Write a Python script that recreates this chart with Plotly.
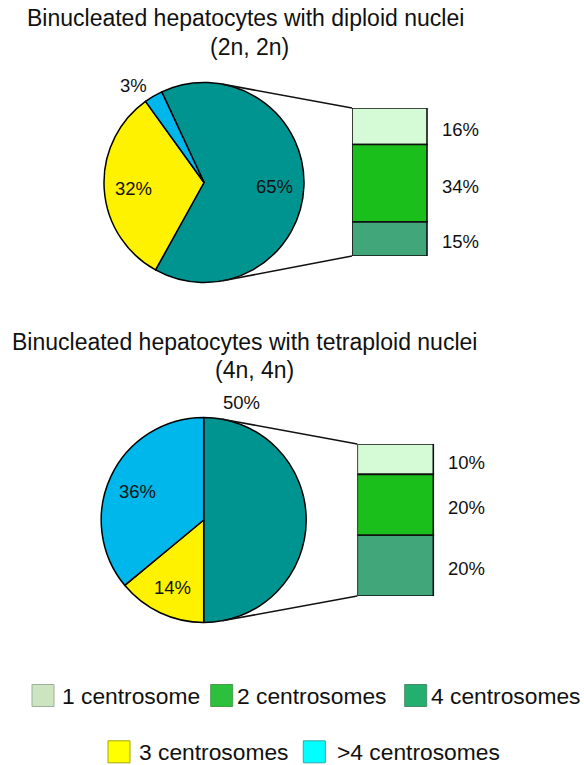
import math
import plotly.graph_objects as go

# ---------------------------------------------------------------- data
slice_names = ["1, 2 or 4 centrosomes", "3 centrosomes", ">4 centrosomes"]
diploid_slices = [65, 32, 3]
tetraploid_slices = [50, 14, 36]

breakdown_names = ["1 centrosome", "2 centrosomes", "4 centrosomes"]
diploid_breakdown = [16, 34, 15]
tetraploid_breakdown = [10, 20, 20]

panel_titles = [
    ("Binucleated hepatocytes with diploid nuclei", "(2n, 2n)"),
    ("Binucleated hepatocytes with tetraploid nuclei", "(4n, 4n)"),
]

legend_names = ["1 centrosome", "2 centrosomes", "4 centrosomes",
                "3 centrosomes", ">4 centrosomes"]

# ---------------------------------------------------------------- styles
W, H = 584, 765
FONT = "Liberation Sans, Arial, Helvetica, sans-serif"
INK = "#111111"

SLICE_COLORS = ["#009490", "#FFF200", "#00B7EB"]
BAR_COLORS = ["#D5FAD6", "#1BBF1B", "#41A67A"]
LEGEND_COLORS = ["#CCE5C0", "#2CC13C", "#22AF70", "#FFFF00", "#00FFFF"]
LEGEND_BORDERS = ["#9DB09D", "#4A9A4A", "#4A8A6A", "#A8A800", "#30A8A8"]

# layout of each panel, in page pixels
panels = [
    dict(slices=diploid_slices, breakdown=diploid_breakdown, title=panel_titles[0],
         cx=204.0, cy=182.5, r=100.0, rotation=335,
         bar=(352.0, 427.0, 108.0, 256.0), label_x=460.0,
         title_xy=((245.0, 18.0), (249.5, 47.0)),
         outside={2: (133.5, 85.0)}),
    dict(slices=tetraploid_slices, breakdown=tetraploid_breakdown, title=panel_titles[1],
         cx=203.7, cy=520.0, r=102.5, rotation=0,
         bar=(357.3, 433.3, 444.0, 596.0), label_x=466.0,
         title_xy=((244.0, 342.0), (254.7, 370.0)),
         outside={0: (241.3, 402.7)}),
]
LABEL_COLUMN = 40.0   # room kept right of the label centre
INSIDE_R = 0.71       # radial position of in-slice labels

legend_rows = [
    # (box left, text left, centre y)
    (32.0, 62.0, 695.5),
    (210.7, 236.7, 695.5),
    (404.7, 430.7, 695.5),
    (108.0, 139.3, 751.8),
    (303.3, 337.3, 751.8),
]
SWATCH = 22.0


def px_x(x):
    return x / W


def px_y(y):
    return 1 - y / H


fig = go.Figure()

# full-page canvas axis used for connectors, labels and the legend
fig.add_trace(go.Scatter(x=[], y=[], xaxis="x", yaxis="y", hoverinfo="skip",
                         showlegend=False))

annotations = []
shapes = []

for i, p in enumerate(panels):
    cx, cy, r = p["cx"], p["cy"], p["r"]
    bx0, bx1, by0, by1 = p["bar"]

    # pie
    fig.add_trace(go.Pie(
        values=p["slices"], labels=slice_names, sort=False,
        direction="clockwise", rotation=p["rotation"],
        marker=dict(colors=SLICE_COLORS, line=dict(color="#000000", width=1.5)),
        textinfo="none", hoverinfo="label+percent", showlegend=False,
        domain=dict(x=[px_x(cx - r), px_x(cx + r)], y=[px_y(cy + r), px_y(cy - r)]),
    ))

    # slice percentage labels
    total = sum(p["slices"])
    angle = p["rotation"]
    for k, v in enumerate(p["slices"]):
        span = 360.0 * v / total
        mid = math.radians(angle + span / 2)
        angle += span
        if k in p["outside"]:
            lx, ly = p["outside"][k]
        else:
            lx = cx + INSIDE_R * r * math.sin(mid)
            ly = cy - INSIDE_R * r * math.cos(mid) + 2
        annotations.append(dict(x=lx, y=ly, xref="x", yref="y", text=f"{v}%",
                                showarrow=False, xanchor="center", yanchor="middle",
                                font=dict(size=18.5, color=INK, family=FONT)))

    # stacked breakdown bar; its x axis also spans the label column
    ax = i + 2
    btotal = sum(p["breakdown"])
    bases = [sum(p["breakdown"][:k]) for k in range(len(p["breakdown"]))]
    fig.add_trace(go.Bar(
        x=[0] * len(p["breakdown"]), y=p["breakdown"], base=bases, width=1,
        marker=dict(color=BAR_COLORS, line=dict(color="#111111", width=1.6)),
        hovertext=breakdown_names, hoverinfo="text+y", showlegend=False,
        xaxis=f"x{ax}", yaxis=f"y{ax}",
    ))
    bar_w = bx1 - bx0
    right_px = p["label_x"] + LABEL_COLUMN
    x_hi = -0.5 + (right_px - bx0) / bar_w
    label_unit = (p["label_x"] - (bx0 + bx1) / 2) / bar_w
    for b, v in zip(bases, p["breakdown"]):
        annotations.append(dict(x=label_unit, y=b + v / 2, xref=f"x{ax}", yref=f"y{ax}",
                                text=f"{v}%", showarrow=False, xanchor="center",
                                yanchor="middle", yshift=-3,
                                font=dict(size=18.5, color=INK, family=FONT)))
    fig.update_layout({
        f"xaxis{ax}": dict(domain=[px_x(bx0), px_x(right_px)], range=[-0.5, x_hi],
                           visible=False, fixedrange=True, anchor=f"y{ax}"),
        f"yaxis{ax}": dict(domain=[px_y(by1), px_y(by0)], range=[btotal, 0],
                           visible=False, fixedrange=True, anchor=f"x{ax}"),
    })

    # connectors: tangents from the bar's left corners to the pie
    for corner_y, sign in ((by0, -1), (by1, 1)):
        dx, dy = bx0 - cx, corner_y - cy
        d = math.hypot(dx, dy)
        alpha = math.acos(r / d)
        base_ang = math.atan2(dy, dx)
        t = base_ang + sign * alpha
        tx, ty = cx + r * math.cos(t), cy + r * math.sin(t)
        shapes.append(dict(type="line", xref="x", yref="y", x0=tx, y0=ty,
                           x1=bx0, y1=corner_y,
                           line=dict(color="#111111", width=1.6)))

    # titles
    for text, (tx, ty) in zip(p["title"], p["title_xy"]):
        annotations.append(dict(x=tx, y=ty, xref="x", yref="y", text=text,
                                showarrow=False, xanchor="center", yanchor="middle",
                                font=dict(size=23, color=INK, family=FONT)))

# legend
for name, color, border, (bxl, txl, yc) in zip(legend_names, LEGEND_COLORS,
                                               LEGEND_BORDERS, legend_rows):
    shapes.append(dict(type="rect", xref="x", yref="y",
                       x0=bxl, x1=bxl + SWATCH, y0=yc - SWATCH / 2, y1=yc + SWATCH / 2,
                       fillcolor=color, line=dict(color=border, width=1)))
    annotations.append(dict(x=txl - 2, y=yc, xref="x", yref="y", text=name,
                            showarrow=False, xanchor="left", yanchor="middle",
                            font=dict(size=22.8, color=INK, family=FONT)))

fig.update_layout(
    width=W, height=H, autosize=False,
    margin=dict(l=0, r=0, t=0, b=0),
    paper_bgcolor="white", plot_bgcolor="rgba(0,0,0,0)",
    barmode="overlay", showlegend=False,
    xaxis=dict(domain=[0, 1], range=[0, W], visible=False, fixedrange=True),
    yaxis=dict(domain=[0, 1], range=[H, 0], visible=False, fixedrange=True),
    annotations=annotations, shapes=shapes,
    font=dict(family=FONT, color=INK),
)

fig.write_html("out.html")
